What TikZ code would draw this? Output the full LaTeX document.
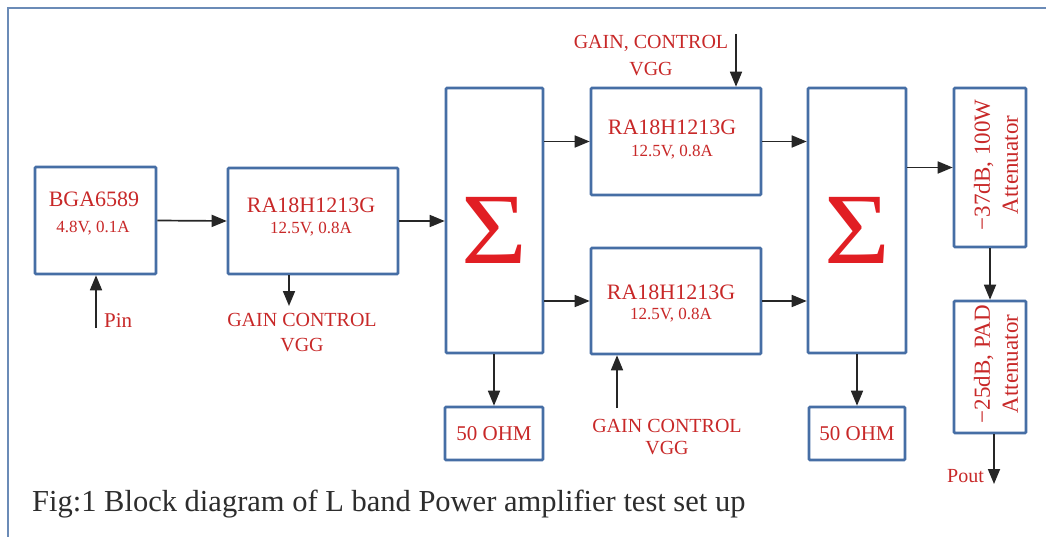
\documentclass[tikz,border=0pt]{standalone}
\usepackage{fontspec}
\setmainfont{Liberation Serif}
\usetikzlibrary{arrows.meta}
\definecolor{boxblue}{RGB}{70,110,165}
\definecolor{txtred}{RGB}{200,40,40}
\definecolor{sigred}{RGB}{225,30,35}
\definecolor{capgray}{RGB}{45,45,45}
\tikzset{
  blk/.style={draw=boxblue, line width=2.6pt, rounded corners=1pt, fill=white, inner sep=0pt},
  lbl/.style={text=txtred, align=center, inner sep=0pt, font=\fontsize{20}{22}\selectfont},
  big/.style={text=txtred, inner sep=0pt, font=\fontsize{22}{24}\selectfont},
  sub/.style={text=txtred, inner sep=0pt, font=\fontsize{17}{19}\selectfont},
  sig/.style={text=sigred, inner sep=0pt, xscale=1.12, font=\fontsize{101}{101}\selectfont},
  conn/.style={draw=black!85, line width=1.7pt, -{Triangle[length=15pt,width=12pt]}},
}
\begin{document}
\begin{tikzpicture}[x=1pt,y=-1pt]
\useasboundingbox (0,0) rectangle (1046,537);
\fill[white] (0,0) rectangle (1046,537);
% frame
\draw[boxblue!80, line width=2.4pt] (8,545) -- (8,8) -- (1060,8);
% boxes
\node[blk, minimum width=121pt, minimum height=107pt] (bga) at (95.5,220.5) {};
\node[blk, minimum width=170pt, minimum height=106pt] (ra1) at (313,221) {};
\node[blk, minimum width=97pt, minimum height=265pt] (s1) at (494.5,220.5) {};
\node[blk, minimum width=170pt, minimum height=107pt] (rat) at (676,141.5) {};
\node[blk, minimum width=170pt, minimum height=106pt] (rab) at (676,301) {};
\node[blk, minimum width=98pt, minimum height=265pt] (s2) at (857,220.5) {};
\node[blk, minimum width=72pt, minimum height=159pt] (att1) at (990,167.5) {};
\node[blk, minimum width=72pt, minimum height=132pt] (att2) at (990,367) {};
\node[blk, minimum width=98pt, minimum height=53pt] (ohm1) at (494,433.5) {};
\node[blk, minimum width=96pt, minimum height=53pt] (ohm2) at (857,433.5) {};
% box texts
\node[big] (bgaA) at (94,199) {BGA6589};
\node[sub] (bgaB) at (93,228) {4.8V, 0.1A};
\node[big] (ra1A) at (311,205) {RA18H1213G};
\node[sub] (ra1B) at (311,229) {12.5V, 0.8A};
\node[big] (ratA) at (672,127) {RA18H1213G};
\node[sub] (ratB) at (672,152) {12.5V, 0.8A};
\node[big] (rabA) at (671,292) {RA18H1213G};
\node[sub] (rabB) at (671,315) {12.5V, 0.8A};
\node[sig] (s1S) at (494,230) {Σ};
\node[sig] (s2S) at (857,230) {Σ};
\node[lbl, rotate=90, font=\fontsize{23}{28}\selectfont] (att1T) at (996,165) {−37dB, 100W\\Attenuator};
\node[lbl, rotate=90, font=\fontsize{23}{28}\selectfont] (att2T) at (996,364) {−25dB, PAD\\Attenuator};
\node[lbl, font=\fontsize{21}{23}\selectfont] (ohm1T) at (494,434) {50 OHM};
\node[lbl, font=\fontsize{21}{23}\selectfont] (ohm2T) at (857,434) {50 OHM};
% free labels
\node[lbl, anchor=west, font=\fontsize{21}{23}\selectfont] (pinT) at (104,321) {Pin};
\node[lbl, font=\fontsize{20}{25}\selectfont] (g1T) at (302,333) {GAIN CONTROL\\VGG};
\node[lbl, font=\fontsize{20}{27}\selectfont] (g2T) at (651,56) {GAIN, CONTROL\\VGG};
\node[lbl, font=\fontsize{20}{22}\selectfont] (g3T) at (667,437) {GAIN CONTROL\\VGG};
\node[lbl, anchor=east] (poutT) at (984,476) {Pout};
\node[text=capgray, anchor=west, inner sep=0pt, font=\fontsize{30.5}{32}\selectfont] (cap) at (32,504) {Fig:1 Block diagram of L band Power amplifier test set up};
% coordinates for free ends
\coordinate (pinS) at (96,328);
\coordinate (g1E) at (289,306);
\coordinate (g2S) at (736,34);
\coordinate (g3S) at (617,408);
\coordinate (poutE) at (994,484);
% connectors
\draw[conn] (pinS) -- (bga.south -| pinS);
\draw[conn] (bga.east) -- (ra1.west);
\draw[conn] (ra1.south -| g1E) -- (g1E);
\draw[conn] (ra1.east) -- (ra1.east -| s1.west);
\draw[conn] (s1.east |- rat.west) -- (rat.west);
\draw[conn] (s1.east |- rab.west) -- (rab.west);
\draw[conn] (rat.east) -- (rat.east -| s2.west);
\draw[conn] (rab.east) -- (rab.east -| s2.west);
\draw[conn] (g2S) -- (rat.north -| g2S);
\draw[conn] (g3S) -- (rab.south -| g3S);
\draw[conn] (s1.south -| ohm1.north) -- (ohm1.north);
\draw[conn] (s2.south -| ohm2.north) -- (ohm2.north);
\draw[conn] (s2.east |- att1.west) -- (att1.west);
\draw[conn] (att1.south) -- (att2.north);
\draw[conn] (att2.south -| poutE) -- (poutE);
\end{tikzpicture}
\end{document}
